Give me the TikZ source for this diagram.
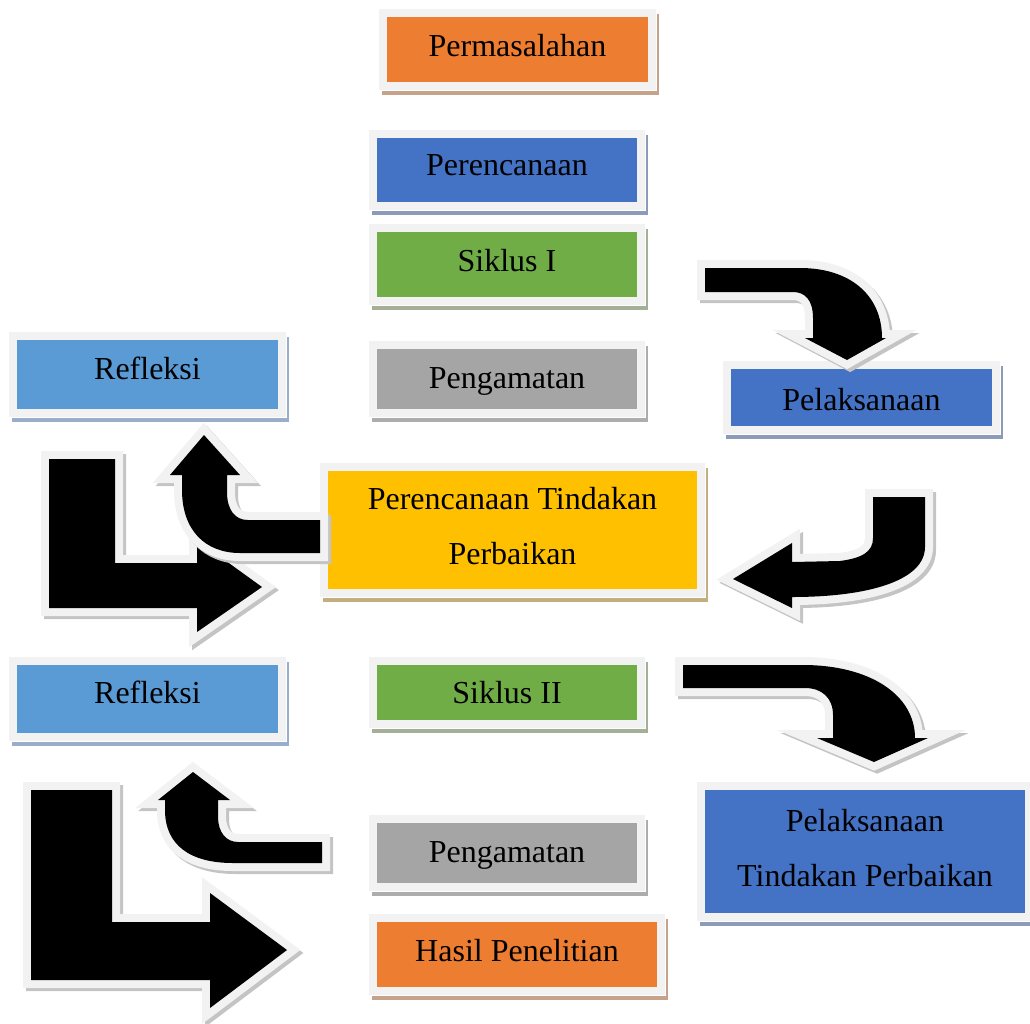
\documentclass[tikz,border=0pt]{standalone}
\usepackage{fontspec}
\setmainfont{Liberation Serif}
\usetikzlibrary{backgrounds}
\definecolor{bordc}{HTML}{F2F2F2}
\definecolor{arrshc}{HTML}{C4C4C4}
\definecolor{cOr}{HTML}{ED7D31}
\definecolor{sOr}{HTML}{C6A28A}
\definecolor{cBl}{HTML}{4472C4}
\definecolor{sBl}{HTML}{8C9BB8}
\definecolor{cGr}{HTML}{70AD47}
\definecolor{sGr}{HTML}{A3B096}
\definecolor{cGy}{HTML}{A5A5A5}
\definecolor{sGy}{HTML}{ADADAD}
\definecolor{cLb}{HTML}{5B9BD5}
\definecolor{sLb}{HTML}{98AECB}
\definecolor{cYe}{HTML}{FFC000}
\definecolor{sYe}{HTML}{C2AE7E}
\tikzset{
  boxbase/.style={draw=bordc, line width=8pt, inner sep=0pt, outer sep=4pt,
    font=\fontsize{32}{55}\selectfont},
  onebox/.style={boxbase, text height=#1, text depth=8pt},
  onebox/.default=22pt,
  twobox/.style={boxbase, align=center},
  arrsh/.style={draw=arrshc, fill=arrshc, line width=16pt, line join=miter, miter limit=6},
  arrbd/.style={draw=bordc, fill=black, line width=16pt, line join=miter, miter limit=6},
}
\newcommand\blkarrow[1]{%
  \draw[arrsh, shift={(3,3)}] #1;
  \draw[arrbd] #1;
  \fill[black] #1;}
\newcommand\lowstrut{\rule[-8pt]{0pt}{8pt}}
\begin{document}
\begin{tikzpicture}[x=1pt,y=-1pt]
\useasboundingbox (0,0) rectangle (1030,1023);

% boxes
\node[onebox, fill=cOr, minimum width=269pt, minimum height=73pt] (perm) at (517.5,49.5) {Permasalahan};
\node[onebox=18pt, fill=cBl, minimum width=268pt, minimum height=72pt] (peren) at (507,170) {Perencanaan};
\node[onebox, fill=cGr, minimum width=268pt, minimum height=73pt] (sik1) at (507,264.5) {Siklus I};
\node[onebox=26pt, fill=cGy, minimum width=268pt, minimum height=68pt] (peng1) at (507,379) {Pengamatan};
\node[onebox=18pt, fill=cLb, minimum width=269pt, minimum height=77pt] (ref1) at (147.5,374.5) {Refleksi};
\node[onebox=34pt, fill=cBl, minimum width=269pt, minimum height=65pt] (pel) at (861.5,397.5) {Pelaksanaan};
\node[twobox, fill=cYe, minimum width=377pt, minimum height=126pt] (ptp) at (512.5,530) {Perencanaan Tindakan\\Perbaikan\lowstrut};
\node[onebox=16pt, fill=cLb, minimum width=269pt, minimum height=76pt] (ref2) at (147.5,699) {Refleksi};
\node[onebox=30pt, fill=cGr, minimum width=268pt, minimum height=63pt] (sik2) at (507,692.5) {Siklus II};
\node[twobox, fill=cBl, minimum width=328pt, minimum height=131pt] (peltp) at (865,851.5) {Pelaksanaan\\Tindakan Perbaikan\lowstrut};
\node[onebox=26pt, fill=cGy, minimum width=268pt, minimum height=68pt] (peng2) at (507,853) {Pengamatan};
\node[onebox, fill=cOr, minimum width=288pt, minimum height=73pt] (hasil) at (517,954.5) {Hasil Penelitian};

% box shadows
\begin{pgfonlayer}{background}
\foreach \n/\c in {perm/sOr, peren/sBl, sik1/sGr, peng1/sGy, ref1/sLb, pel/sBl,
    ptp/sYe, ref2/sLb, sik2/sGr, peltp/sBl, peng2/sGy, hasil/sOr} {
  \fill[\c] ([shift={(3,5)}]\n.north west) rectangle ([shift={(3,5)}]\n.south east);
  \fill[white] ([shift={(-1,-1)}]\n.north west) rectangle ([shift={(1,1)}]\n.south east);
}
\end{pgfonlayer}

% block arrows
% L-arrow upper left
\blkarrow{(49,459) -- (115,459) -- (115,563) -- (197,563) -- (197,540) -- (262,587) -- (197,632) -- (197,608) -- (49,608) -- cycle}
% curved up arrow from ptp to Refleksi
\blkarrow{(320,520) -- (248,520) .. controls (235,520) and (227,510) .. (227,492) -- (227,475) -- (240,475) -- (204,435) -- (170,475) -- (182,475) -- (182,490) .. controls (182,530) and (205,553) .. (240,553) -- (320,553) -- cycle}
% L-arrow lower left
\blkarrow{(31,790) -- (112,790) -- (112,922) -- (210,922) -- (210,893) -- (287,950) -- (210,1008) -- (210,980) -- (31,980) -- cycle}
% curved up arrow lower
\blkarrow{(322,842) -- (238,842) .. controls (226,842) and (218,832) .. (218,817) -- (218,800) -- (230,800) -- (193,772) -- (158,800) -- (165,800) -- (165,810) .. controls (165,845) and (190,863) .. (233,863) -- (322,863) -- cycle}
% curved down arrow to Pelaksanaan
\blkarrow{(705,268) -- (800,268) .. controls (850,268) and (882,295) .. (882,338) -- (886,338) -- (847,360) -- (805,338) -- (813,338) -- (813,318) .. controls (813,300) and (805,292) .. (793,292) -- (705,292) -- cycle}
% curved arrow pointing left to ptp
\blkarrow{(873,497) -- (925,497) -- (925,547) .. controls (925,580) and (870,597) .. (792,597) -- (792,608) -- (733,579) -- (792,543) -- (792,562) -- (840,561) .. controls (862,558) and (873,552) .. (873,538) -- cycle}
% curved down arrow to Pelaksanaan Tindakan Perbaikan
\blkarrow{(683,665) -- (803,665) .. controls (870,665) and (915,695) .. (915,738) -- (928,738) -- (874,762) -- (817,738) -- (833,738) -- (833,715) .. controls (833,698) and (822,688) .. (805,688) -- (683,688) -- cycle}
\end{tikzpicture}
\end{document}
